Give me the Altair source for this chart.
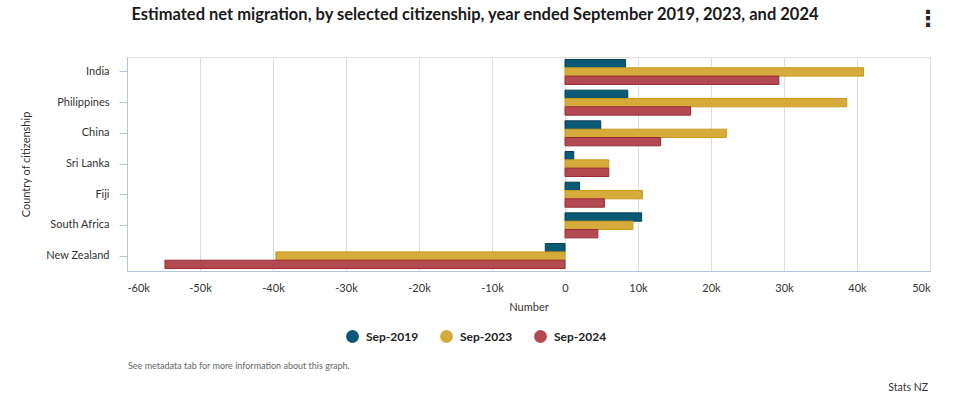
import altair as alt
import pandas as pd

countries = ["India", "Philippines", "China", "Sri Lanka", "Fiji", "South Africa", "New Zealand"]
series = ["Sep-2019", "Sep-2023", "Sep-2024"]
sep2019 = [8300, 8600, 4900, 1200, 2000, 10500, -2700]
sep2023 = [40900, 38600, 22100, 6000, 10600, 9300, -39600]
sep2024 = [29300, 17200, 13100, 6000, 5400, 4500, -54800]
x_ticks = [-60000, -50000, -40000, -30000, -20000, -10000, 0, 10000, 20000, 30000, 40000, 50000]

fills = ["#0b5a75", "#d6ab3c", "#b34a52"]
strokes = ["#083f55", "#c79a1c", "#9a2a36"]

rows = []
for vals, s in zip([sep2019, sep2023, sep2024], series):
    for c, v in zip(countries, vals):
        rows.append({"Country": c, "Series": s, "Value": v})
df = pd.DataFrame(rows)

FONT = "Lato"

bars = alt.Chart(df).mark_bar(strokeWidth=1).encode(
    x=alt.X("Value:Q",
            scale=alt.Scale(domain=[-60000, 50000], nice=False, zero=False),
            axis=alt.Axis(values=x_ticks, title="Number",
                          labelExpr="datum.value == 0 ? '0' : (datum.value/1000) + 'k'",
                          grid=True, gridColor="#dcdcdc", gridWidth=1,
                          domainColor="#b5c3e0", tickSize=0, labelPadding=11,
                          labelFontSize=11, labelColor="#333333", labelFont=FONT,
                          titleFont=FONT, titleFontSize=11, titleFontWeight="normal",
                          titleColor="#333333", titlePadding=8)),
    y=alt.Y("Country:N", sort=countries,
            scale=alt.Scale(paddingInner=0.185, paddingOuter=0.08),
            axis=alt.Axis(title="Country of citizenship", grid=False,
                          domainColor="#b5c3e0", tickColor="#b5c3e0", tickSize=8,
                          labelPadding=10, labelFontSize=11, labelColor="#333333",
                          labelFont=FONT, titleFont=FONT, titleFontSize=11,
                          titleFontWeight="normal", titleColor="#333333", titlePadding=14)),
    yOffset=alt.YOffset("Series:N", sort=series, scale=alt.Scale(paddingInner=0, paddingOuter=0)),
    color=alt.Color("Series:N", sort=series,
                    scale=alt.Scale(domain=series, range=fills),
                    legend=alt.Legend(title=None, orient="none", direction="horizontal",
                                      legendX=219, legendY=273, symbolType="circle",
                                      symbolSize=165, symbolStrokeWidth=0,
                                      labelFont=FONT, labelFontSize=12, labelFontWeight="bold",
                                      labelColor="#222222", columnPadding=21, labelOffset=7)),
    stroke=alt.Stroke("Series:N", sort=series,
                      scale=alt.Scale(domain=series, range=strokes), legend=None),
)

title = alt.Chart(pd.DataFrame({"t": ["Estimated net migration, by selected citizenship, year ended September 2019, 2023, and 2024"]})).mark_text(
    align="center", baseline="middle", fontSize=16.5, fontWeight="bold", color="#1a1a1a", font=FONT
).encode(x=alt.value(348), y=alt.value(-42), text="t:N")

note = alt.Chart(pd.DataFrame({"t": ["See metadata tab for more information about this graph."]})).mark_text(
    align="left", baseline="middle", fontSize=9, color="#666666", font=FONT
).encode(x=alt.value(1), y=alt.value(309), text="t:N")

src = alt.Chart(pd.DataFrame({"t": ["Stats NZ"]})).mark_text(
    align="right", baseline="middle", fontSize=10.5, color="#333333", font=FONT
).encode(x=alt.value(801), y=alt.value(331), text="t:N")

kebab = alt.Chart(pd.DataFrame({"t": ["⋮"]})).mark_text(
    align="center", baseline="middle", fontSize=22, fontWeight="bold", color="#222222", font="DejaVu Sans"
).encode(x=alt.value(801), y=alt.value(-38), text="t:N")

chart = alt.layer(bars, title, note, src, kebab).properties(
    width=803, height=214,
    autosize=alt.AutoSizeParams(type="none"),
    padding={"left": 127, "top": 57, "right": 26, "bottom": 143},
).configure_view(stroke=None).configure(background="white")

chart.save("out.html", embed_options={"renderer": "svg", "actions": False})
